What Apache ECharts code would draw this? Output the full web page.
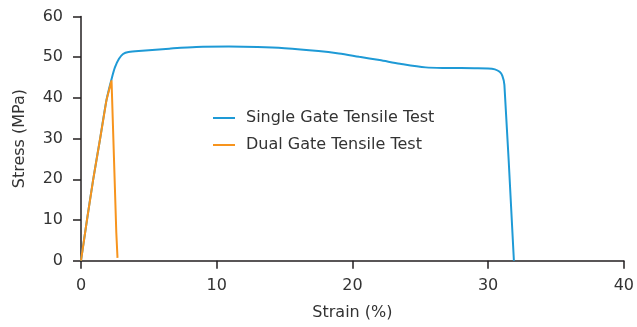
<!DOCTYPE html>
<html><head><meta charset="utf-8">
<script src="https://cdn.jsdelivr.net/npm/echarts@6/dist/echarts.min.js"></script>
<style>html,body{margin:0;padding:0;background:#fff}#c{width:637px;height:327px}</style>
</head><body><div id="c"></div>
<script>
const seriesNames = ['Single Gate Tensile Test', 'Dual Gate Tensile Test'];
const xTicks = [0, 10, 20, 30, 40];
const yTicks = [0, 10, 20, 30, 40, 50, 60];
const singleGate = [
  [0,0],[0.44,10],[0.9,20],[1.39,29.6],[1.88,39.5],[2.25,44.6],[2.5,47.5],[2.8,49.6],
  [3.1,50.8],[3.5,51.3],[4.5,51.6],[6.5,52.1],[8.5,52.5],[10.9,52.6],[13,52.5],
  [15,52.2],[17.5,51.5],[19,50.9],[20.5,50.1],[22,49.3],[23.5,48.4],[25.4,47.5],
  [27,47.35],[29,47.3],[30,47.25],[30.5,47.0],[30.85,46.4],[31.05,45.4],[31.2,43.2],[31.9,0]
];
const dualGate = [
  [0,0],[0.44,10],[0.9,20],[1.39,29.6],[1.88,39.5],[2.25,44.3],[2.33,44.2],[2.6,7],[2.69,0.7]
];
const colors = ['#1e9ad6', '#f7941d'];
const fontFam = 'DejaVu Sans';
const chart = echarts.init(document.getElementById('c'), null, {renderer:'canvas'});
chart.setOption({
  animation: false,
  color: colors,
  textStyle: {fontFamily: fontFam},
  grid: {left: 81, right: 11, top: 16.5, bottom: 66.3, containLabel: false},
  legend: {
    orient: 'vertical', left: 208, top: 104, icon: 'rect', itemWidth: 22, itemHeight: 2,
    itemGap: 9,
    textStyle: {fontSize: 16, color: '#333', fontFamily: fontFam, lineHeight: 18, padding: [0,0,0,6]},
    data: seriesNames
  },
  xAxis: {
    type: 'value', min: xTicks[0], max: xTicks[xTicks.length-1], interval: 10,
    name: 'Strain (%)', nameLocation: 'middle', nameGap: 44,
    nameTextStyle: {fontSize: 16, color: '#333'},
    axisLine: {show: true, lineStyle: {color: '#231f20', width: 1.5}},
    axisTick: {show: true, length: 8, lineStyle: {color: '#231f20', width: 1.5}},
    axisLabel: {fontSize: 16, color: '#333', margin: 17},
    splitLine: {show: false}
  },
  yAxis: {
    type: 'value', min: yTicks[0], max: yTicks[yTicks.length-1], interval: 10,
    name: 'Stress (MPa)', nameLocation: 'middle', nameGap: 53,
    nameTextStyle: {fontSize: 16, color: '#333'},
    axisLine: {show: true, lineStyle: {color: '#231f20', width: 1.5}},
    axisTick: {show: true, length: 8, lineStyle: {color: '#231f20', width: 1.5}},
    axisLabel: {fontSize: 16, color: '#333', margin: 18},
    splitLine: {show: false}
  },
  series: [
    {name: seriesNames[0], type: 'line', data: singleGate, showSymbol: false, smooth: 0.3,
     lineStyle: {width: 2}, z: 2},
    {name: seriesNames[1], type: 'line', data: dualGate, showSymbol: false, smooth: false,
     lineStyle: {width: 2}, z: 3}
  ]
});
</script></body></html>
